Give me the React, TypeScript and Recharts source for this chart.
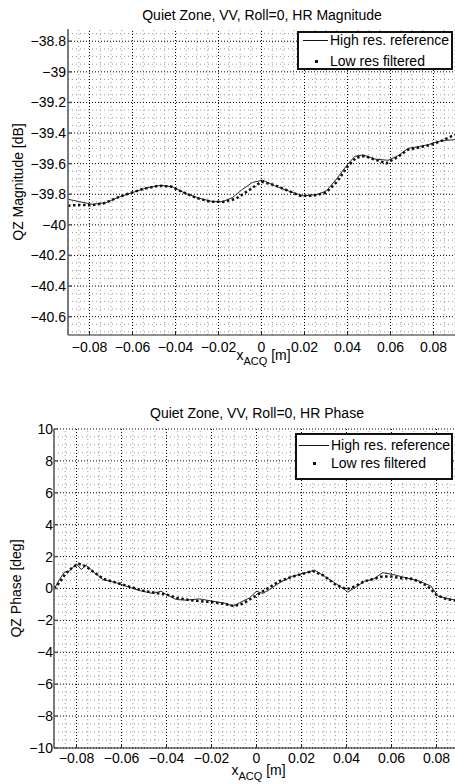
import { LineChart, Line, XAxis, YAxis, ReferenceLine, Legend } from 'recharts';

const FONT = '"Liberation Sans", Arial, Helvetica, sans-serif';

// --- magnitude panel (dB) ---
const magHiX = [-0.09, -0.0848, -0.0786, -0.0724, -0.0662, -0.06, -0.0538, -0.0468, -0.0414, -0.0352, -0.029, -0.0228, -0.0181, -0.0135, -0.0088, -0.0042, 0.0005, 0.0062, 0.0124, 0.0194, 0.0263, 0.0302, 0.0349, 0.0395, 0.0434, 0.0473, 0.0527, 0.0589, 0.0636, 0.0682, 0.0729, 0.0775, 0.0837, 0.09];
const magHi = [-39.833, -39.848, -39.866, -39.855, -39.818, -39.789, -39.76, -39.741, -39.752, -39.795, -39.826, -39.848, -39.848, -39.822, -39.767, -39.723, -39.708, -39.745, -39.778, -39.811, -39.8, -39.778, -39.7, -39.614, -39.552, -39.543, -39.57, -39.578, -39.548, -39.5, -39.489, -39.476, -39.45, -39.443];
const magLoX = [-0.09, -0.085, -0.079, -0.073, -0.067, -0.061, -0.055, -0.048, -0.042, -0.036, -0.03, -0.024, -0.018, -0.012, -0.006, 0, 0.006, 0.012, 0.018, 0.024, 0.03, 0.035, 0.04, 0.044, 0.048, 0.053, 0.058, 0.063, 0.068, 0.073, 0.078, 0.084, 0.09];
const magLo = [-39.875, -39.87, -39.872, -39.858, -39.822, -39.792, -39.765, -39.745, -39.75, -39.79, -39.825, -39.848, -39.85, -39.83, -39.775, -39.718, -39.74, -39.775, -39.81, -39.81, -39.79, -39.72, -39.62, -39.56, -39.55, -39.575, -39.598, -39.56, -39.51, -39.495, -39.48, -39.45, -39.41];

// --- phase panel (deg) ---
const phaseHiX = [-0.09, -0.0876, -0.0853, -0.0831, -0.0801, -0.0779, -0.0757, -0.072, -0.0683, -0.0624, -0.058, -0.052, -0.0461, -0.0424, -0.0401, -0.0357, -0.0312, -0.0253, -0.0194, -0.0135, -0.0105, -0.0076, -0.0031, 0, 0.0028, 0.0058, 0.0102, 0.0161, 0.022, 0.0258, 0.0302, 0.0347, 0.0391, 0.0406, 0.0443, 0.048, 0.0517, 0.0561, 0.0606, 0.0665, 0.0724, 0.0776, 0.0806, 0.0858, 0.09];
const phaseHi = [-0.06, 0.57, 1.03, 1.09, 1.55, 1.19, 1.45, 0.99, 0.57, 0.36, 0.15, -0.13, -0.31, -0.17, -0.38, -0.69, -0.73, -0.65, -0.8, -0.94, -1.11, -0.9, -0.59, -0.17, -0.31, -0.06, 0.36, 0.77, 0.99, 1.15, 0.77, 0.36, -0.06, -0.23, 0.1, 0.46, 0.57, 0.99, 0.88, 0.67, 0.46, 0.15, -0.48, -0.65, -0.78];
const phaseLoX = [-0.09, -0.088, -0.085, -0.082, -0.079, -0.076, -0.072, -0.068, -0.062, -0.056, -0.05, -0.044, -0.04, -0.035, -0.03, -0.025, -0.02, -0.015, -0.01, -0.006, -0.002, 0.002, 0.006, 0.01, 0.015, 0.02, 0.025, 0.03, 0.035, 0.04, 0.044, 0.048, 0.052, 0.056, 0.06, 0.064, 0.068, 0.072, 0.076, 0.08, 0.084, 0.09];
const phaseLo = [0.0, 0.3, 0.9, 1.3, 1.55, 1.4, 1.0, 0.6, 0.35, 0.1, -0.15, -0.3, -0.38, -0.6, -0.72, -0.8, -0.85, -0.95, -1.1, -0.95, -0.6, -0.25, 0.1, 0.45, 0.7, 0.9, 1.1, 0.8, 0.25, -0.05, 0.15, 0.45, 0.6, 0.75, 0.75, 0.65, 0.65, 0.45, 0.15, -0.4, -0.65, -0.8];

const xTicks = [-0.08, -0.06, -0.04, -0.02, 0, 0.02, 0.04, 0.06, 0.08];
const magTicks = [-40.6, -40.4, -40.2, -40, -39.8, -39.6, -39.4, -39.2, -39, -38.8];
const phaseTicks = [-10, -8, -6, -4, -2, 0, 2, 4, 6, 8, 10];

// minor grid positions
const steps = (from: number, to: number, step: number) => {
  const n = Math.round((to - from) / step);
  return Array.from({ length: n + 1 }, (_, i) => +(from + i * step).toFixed(4));
};
const xMinor = steps(-0.09, 0.09, 0.005);
const magMinor = steps(-40.7, -38.75, 0.05);
const phaseMinor = steps(-10, 10, 0.5);

const zip = (xs: number[], ys: number[]) => xs.map((x, i) => ({ x, y: ys[i] }));
const fmt = (v: number) => String(Number(v.toFixed(2))).replace('-', '\u2212');

interface LegendBoxProps {
  width: number;
  height: number;
  row1: number;
  row2: number;
  lineX: number;
  textX: number;
}

function LegendBox({ width, height, row1, row2, lineX, textX }: LegendBoxProps) {
  return (
    <div style={{ position: 'relative', width, height, border: '2px solid #111', background: '#fff', boxSizing: 'border-box', fontFamily: FONT, fontSize: 14, color: '#000' }}>
      <div style={{ position: 'absolute', left: lineX, top: row1 - 2, width: textX - lineX - 2, borderTop: '1px solid #111' }} />
      <div style={{ position: 'absolute', left: (lineX + textX) / 2 - 2, top: row2 - 3, width: 3, height: 3, background: '#111' }} />
      <div style={{ position: 'absolute', left: textX, top: row1 - 10, whiteSpace: 'nowrap', lineHeight: '16px' }}>High res. reference</div>
      <div style={{ position: 'absolute', left: textX, top: row2 - 10, whiteSpace: 'nowrap', lineHeight: '16px' }}>Low res filtered</div>
    </div>
  );
}

interface PanelProps {
  title: string;
  titleLeft: number;
  titleTop: number;
  yLabel: string;
  width: number;
  height: number;
  plotHeight: number;
  yAxisWidth: number;
  yDomain: [number, number];
  yTicks: number[];
  yMinor: number[];
  hi: { x: number; y: number }[];
  lo: { x: number; y: number }[];
  yLabelX: number;
  xLabelDy: number;
  xTickMargin: number;
  yTickMargin: number;
  legend: LegendBoxProps & { top: number; left: number };
}

function Panel(p: PanelProps) {
  const tickStyle = { fontFamily: FONT, fontSize: 14, fill: '#000' };
  const minorY = p.yMinor.filter((v) => !p.yTicks.some((t) => Math.abs(t - v) < 1e-6));
  const minorX = xMinor.filter((v) => !xTicks.some((t) => Math.abs(t - v) < 1e-6));
  return (
    <div style={{ position: 'relative', width: p.width, height: p.height }}>
      <div style={{ position: 'absolute', top: p.titleTop, left: p.titleLeft - 150, width: 300, textAlign: 'center', fontFamily: FONT, fontSize: 14, lineHeight: '16px', color: '#000' }}>
        {p.title}
      </div>
      <LineChart width={p.width} height={p.height} margin={{ top: 29, right: 0, bottom: 0, left: 0 }}>
        {minorX.map((v) => (
          <ReferenceLine key={'mx' + v} x={v} stroke="#9a9a9a" strokeDasharray="1 3" strokeWidth={1} />
        ))}
        {minorY.map((v) => (
          <ReferenceLine key={'my' + v} y={v} stroke="#9a9a9a" strokeDasharray="1 3" strokeWidth={1} />
        ))}
        {xTicks.map((v) => (
          <ReferenceLine key={'Mx' + v} x={v} stroke="#000" strokeDasharray="1 2" strokeWidth={1} />
        ))}
        {p.yTicks.map((v) => (
          <ReferenceLine key={'My' + v} y={v} stroke="#000" strokeDasharray="1 2" strokeWidth={1} />
        ))}
        <XAxis
          type="number"
          dataKey="x"
          domain={[-0.09, 0.09]}
          ticks={xTicks}
          allowDataOverflow
          tickFormatter={fmt}
          tick={tickStyle}
          tickSize={-4}
          tickMargin={p.xTickMargin}
          height={p.height - 29 - p.plotHeight}
          stroke="#222"
          label={{
            content: (props: any) => {
              const vb = props.viewBox || {};
              const cx = (vb.x ?? 0) + (vb.width ?? 0) / 2 + 2;
              const by = (vb.y ?? 0) + p.xLabelDy;
              return (
                <text x={cx} y={by} textAnchor="middle" fontFamily={FONT} fontSize={14} fill="#000">
                  <tspan>x</tspan>
                  <tspan dy={5} fontSize={11}>ACQ</tspan>
                  <tspan dy={-5}> [m]</tspan>
                </text>
              );
            },
          }}
        />
        <YAxis
          type="number"
          domain={p.yDomain}
          ticks={p.yTicks}
          allowDataOverflow
          tickFormatter={fmt}
          tick={tickStyle}
          tickSize={-4}
          tickMargin={p.yTickMargin}
          width={p.yAxisWidth}
          stroke="#555"
          strokeWidth={1.5}
          label={{
            content: (props: any) => {
              const vb = props.viewBox || {};
              const cy = (vb.y ?? 0) + (vb.height ?? 0) / 2;
              const cx = (vb.x ?? 0) + p.yLabelX;
              return (
                <text x={cx} y={cy} transform={`rotate(-90 ${cx} ${cy})`} textAnchor="middle" dominantBaseline="central" fontFamily={FONT} fontSize={14} fill="#000">
                  {p.yLabel}
                </text>
              );
            },
          }}
        />
        <Line data={p.hi} dataKey="y" type="linear" stroke="#2a2a2a" strokeWidth={1} dot={false} isAnimationActive={false} name="High res. reference" />
        <Line data={p.lo} dataKey="y" type="linear" stroke="#111" strokeWidth={2.5} strokeDasharray="2.5 2.5" dot={false} isAnimationActive={false} name="Low res filtered" />
        <Legend
          layout="horizontal"
          verticalAlign="middle"
          align="center"
          wrapperStyle={{ position: 'absolute', top: p.legend.top, left: p.legend.left, width: p.legend.width }}
          content={() => <LegendBox {...p.legend} />}
        />
      </LineChart>
    </div>
  );
}

export default function App() {
  return (
    <div style={{ position: 'fixed', left: 0, top: 0, width: 455, height: 784, overflow: 'hidden', background: '#fff' }}>
      <div style={{ position: 'absolute', left: 0, top: 0 }}>
        <Panel
          title="Quiet Zone, VV, Roll=0, HR Magnitude"
          titleLeft={262}
          titleTop={7}
          yLabel="QZ Magnitude [dB]"
          width={455}
          height={375}
          plotHeight={306}
          yAxisWidth={68}
          yDomain={[-40.72, -38.72]}
          yTicks={magTicks}
          yMinor={magMinor}
          hi={zip(magHiX, magHi)}
          lo={zip(magLoX, magLo)}
          yLabelX={18}
          xLabelDy={25}
          xTickMargin={10.7}
          yTickMargin={6}
          legend={{ top: 31, left: 297, width: 156, height: 39, row1: 9, row2: 30, lineX: 4, textX: 31 }}
        />
      </div>
      <div style={{ position: 'absolute', left: 0, top: 400 }}>
        <Panel
          title="Quiet Zone, VV, Roll=0, HR Phase"
          titleLeft={257}
          titleTop={5}
          yLabel="QZ Phase [deg]"
          width={459}
          height={384}
          plotHeight={319}
          yAxisWidth={54}
          yDomain={[-10, 10]}
          yTicks={phaseTicks}
          yMinor={phaseMinor}
          hi={zip(phaseHiX, phaseHi)}
          lo={zip(phaseLoX, phaseLo)}
          yLabelX={15.5}
          xLabelDy={27}
          xTickMargin={9}
          yTickMargin={5}
          legend={{ top: 33, left: 295, width: 158, height: 47, row1: 12, row2: 30, lineX: 2, textX: 34 }}
        />
      </div>
    </div>
  );
}
